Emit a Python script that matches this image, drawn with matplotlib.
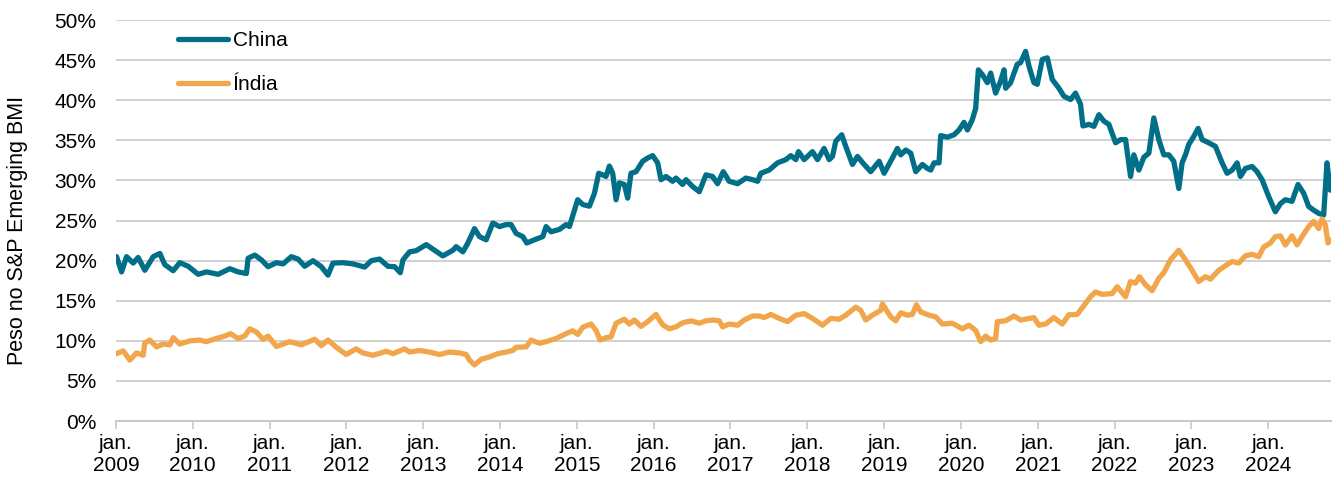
"""
Peso de China e Índia no S&P Emerging BMI (2009-2024).
Valores lidos do gráfico original (ano decimal, % do índice).
"""
import numpy as np
import matplotlib
matplotlib.use("Agg")
import matplotlib.pyplot as plt
from matplotlib.ticker import FuncFormatter

plt.rcParams["font.family"] = ["Liberation Sans", "DejaVu Sans"]

china = [
    (2009.009, 20.5), (2009.074, 18.6), (2009.139, 20.5), (2009.225, 19.7), (2009.290, 20.4),
    (2009.377, 18.8), (2009.486, 20.5), (2009.572, 20.9), (2009.637, 19.5), (2009.746, 18.75),
    (2009.832, 19.75), (2009.941, 19.3), (2010.071, 18.3), (2010.179, 18.6), (2010.331, 18.3),
    (2010.483, 19.0), (2010.591, 18.6), (2010.699, 18.4), (2010.721, 20.3), (2010.808, 20.7),
    (2010.894, 20.1), (2010.981, 19.25), (2011.089, 19.75), (2011.176, 19.6), (2011.284, 20.5),
    (2011.371, 20.2), (2011.458, 19.3), (2011.566, 20.0), (2011.674, 19.25), (2011.761, 18.2),
    (2011.826, 19.7), (2011.956, 19.75), (2012.086, 19.6), (2012.238, 19.2), (2012.325, 20.0),
    (2012.433, 20.2), (2012.541, 19.3), (2012.628, 19.25), (2012.702, 18.5), (2012.737, 20.1),
    (2012.823, 21.1), (2012.910, 21.25), (2013.040, 22.0), (2013.148, 21.3), (2013.256, 20.6),
    (2013.387, 21.3), (2013.430, 21.75), (2013.517, 21.1), (2013.582, 22.2), (2013.668, 24.0),
    (2013.733, 23.0), (2013.820, 22.6), (2013.907, 24.7), (2013.993, 24.25), (2014.080, 24.5),
    (2014.145, 24.5), (2014.210, 23.4), (2014.297, 23.0), (2014.349, 22.2), (2014.448, 22.6),
    (2014.557, 23.0), (2014.600, 24.25), (2014.665, 23.6), (2014.774, 23.9), (2014.860, 24.5),
    (2014.904, 24.25), (2014.969, 26.3), (2015.012, 27.6), (2015.077, 27.0), (2015.164, 26.8),
    (2015.229, 28.4), (2015.285, 30.9), (2015.337, 30.7), (2015.380, 30.5), (2015.424, 31.8),
    (2015.467, 30.9), (2015.511, 27.6), (2015.554, 29.7), (2015.619, 29.5), (2015.662, 27.8),
    (2015.705, 30.9), (2015.771, 31.1), (2015.857, 32.4), (2015.922, 32.8), (2015.987, 33.1),
    (2016.052, 32.2), (2016.096, 30.1), (2016.161, 30.5), (2016.247, 29.9), (2016.291, 30.3),
    (2016.377, 29.5), (2016.421, 30.1), (2016.507, 29.25), (2016.594, 28.6), (2016.681, 30.7),
    (2016.767, 30.5), (2016.832, 29.6), (2016.906, 31.1), (2016.984, 29.9), (2017.092, 29.6),
    (2017.201, 30.3), (2017.288, 30.1), (2017.353, 29.9), (2017.396, 30.9), (2017.504, 31.3),
    (2017.613, 32.2), (2017.721, 32.6), (2017.786, 33.1), (2017.851, 32.6), (2017.886, 33.6),
    (2017.959, 32.6), (2018.068, 33.6), (2018.133, 32.6), (2018.219, 34.0), (2018.285, 32.6),
    (2018.328, 33.0), (2018.371, 34.9), (2018.449, 35.7), (2018.501, 34.25), (2018.588, 32.0),
    (2018.653, 33.0), (2018.740, 32.0), (2018.826, 31.1), (2018.935, 32.4), (2019.000, 30.9),
    (2019.108, 32.8), (2019.173, 34.0), (2019.217, 33.2), (2019.282, 33.8), (2019.347, 33.4),
    (2019.412, 31.1), (2019.499, 32.0), (2019.564, 31.5), (2019.607, 31.3), (2019.650, 32.2),
    (2019.715, 32.2), (2019.737, 35.6), (2019.824, 35.4), (2019.910, 35.7), (2019.975, 36.3),
    (2020.040, 37.25), (2020.084, 36.3), (2020.149, 37.6), (2020.192, 39.0), (2020.227, 43.8),
    (2020.279, 43.2), (2020.344, 42.2), (2020.387, 43.4), (2020.452, 40.9), (2020.517, 42.4),
    (2020.561, 43.8), (2020.582, 41.5), (2020.647, 42.2), (2020.691, 43.4), (2020.734, 44.5),
    (2020.777, 44.7), (2020.842, 46.1), (2020.886, 44.25), (2020.951, 42.2), (2020.994, 42.0),
    (2021.059, 45.1), (2021.124, 45.3), (2021.189, 42.6), (2021.276, 41.5), (2021.341, 40.5),
    (2021.427, 40.1), (2021.492, 40.9), (2021.557, 39.5), (2021.588, 36.8), (2021.666, 37.0),
    (2021.731, 36.75), (2021.796, 38.2), (2021.861, 37.4), (2021.926, 37.0), (2022.013, 34.7),
    (2022.078, 35.1), (2022.143, 35.1), (2022.208, 30.5), (2022.251, 33.2), (2022.316, 31.3),
    (2022.381, 32.9), (2022.446, 33.4), (2022.511, 37.8), (2022.576, 35.1), (2022.641, 33.2),
    (2022.706, 33.2), (2022.771, 32.4), (2022.836, 29.0), (2022.879, 32.2), (2022.923, 33.2),
    (2022.966, 34.5), (2023.031, 35.5), (2023.088, 36.5), (2023.140, 35.1), (2023.226, 34.7),
    (2023.313, 34.25), (2023.400, 32.2), (2023.465, 30.9), (2023.530, 31.3), (2023.595, 32.2),
    (2023.638, 30.5), (2023.703, 31.5), (2023.790, 31.75), (2023.855, 31.1), (2023.920, 30.1),
    (2024.006, 28.0), (2024.093, 26.1), (2024.158, 27.1), (2024.223, 27.6), (2024.310, 27.4),
    (2024.388, 29.5), (2024.462, 28.4), (2024.527, 26.75), (2024.592, 26.3), (2024.657, 25.9),
    (2024.722, 25.7), (2024.765, 32.2), (2024.808, 28.8),
]

india = [
    (2009.009, 8.4), (2009.095, 8.75), (2009.182, 7.6), (2009.269, 8.5), (2009.355, 8.2),
    (2009.377, 9.75), (2009.442, 10.1), (2009.529, 9.25), (2009.615, 9.6), (2009.702, 9.5),
    (2009.746, 10.4), (2009.832, 9.6), (2009.962, 10.0), (2010.092, 10.1), (2010.179, 9.9),
    (2010.309, 10.3), (2010.418, 10.6), (2010.491, 10.9), (2010.591, 10.3), (2010.678, 10.6),
    (2010.743, 11.5), (2010.829, 11.1), (2010.916, 10.2), (2010.981, 10.6), (2011.089, 9.3),
    (2011.263, 9.9), (2011.414, 9.5), (2011.588, 10.2), (2011.674, 9.4), (2011.761, 10.1),
    (2011.869, 9.2), (2011.998, 8.3), (2012.128, 9.0), (2012.216, 8.5), (2012.346, 8.2),
    (2012.520, 8.7), (2012.606, 8.4), (2012.758, 9.0), (2012.823, 8.6), (2012.953, 8.8),
    (2013.083, 8.6), (2013.213, 8.3), (2013.343, 8.6), (2013.473, 8.5), (2013.560, 8.3),
    (2013.603, 7.6), (2013.668, 7.0), (2013.755, 7.7), (2013.863, 8.0), (2013.972, 8.4),
    (2014.080, 8.6), (2014.167, 8.8), (2014.210, 9.2), (2014.340, 9.25), (2014.405, 10.1),
    (2014.513, 9.7), (2014.600, 9.9), (2014.730, 10.3), (2014.860, 10.9), (2014.947, 11.25),
    (2015.012, 10.8), (2015.077, 11.7), (2015.185, 12.1), (2015.250, 11.3), (2015.303, 10.1),
    (2015.380, 10.4), (2015.445, 10.5), (2015.511, 12.2), (2015.619, 12.7), (2015.684, 12.1),
    (2015.749, 12.6), (2015.836, 11.8), (2015.922, 12.4), (2016.031, 13.3), (2016.117, 12.0),
    (2016.204, 11.5), (2016.291, 11.75), (2016.377, 12.25), (2016.486, 12.5), (2016.594, 12.2),
    (2016.681, 12.5), (2016.767, 12.6), (2016.854, 12.5), (2016.897, 11.75), (2016.984, 12.1),
    (2017.092, 11.95), (2017.179, 12.6), (2017.288, 13.1), (2017.374, 13.1), (2017.439, 12.9),
    (2017.526, 13.3), (2017.634, 12.8), (2017.743, 12.4), (2017.851, 13.2), (2017.959, 13.4),
    (2018.068, 12.8), (2018.198, 11.95), (2018.306, 12.8), (2018.415, 12.7), (2018.501, 13.2),
    (2018.631, 14.2), (2018.696, 13.8), (2018.761, 12.6), (2018.848, 13.2), (2018.956, 13.8),
    (2018.978, 14.6), (2019.086, 13.0), (2019.151, 12.5), (2019.217, 13.5), (2019.303, 13.2),
    (2019.368, 13.3), (2019.420, 14.5), (2019.477, 13.6), (2019.585, 13.2), (2019.672, 13.0),
    (2019.758, 12.1), (2019.888, 12.2), (2020.018, 11.5), (2020.105, 11.95), (2020.192, 11.3),
    (2020.257, 9.9), (2020.322, 10.6), (2020.387, 10.1), (2020.452, 10.3), (2020.474, 12.4),
    (2020.582, 12.5), (2020.690, 13.1), (2020.777, 12.6), (2020.950, 12.9), (2021.015, 11.95),
    (2021.102, 12.1), (2021.210, 12.9), (2021.319, 12.1), (2021.405, 13.25), (2021.514, 13.3),
    (2021.600, 14.4), (2021.687, 15.5), (2021.752, 16.1), (2021.839, 15.8), (2021.969, 15.9),
    (2022.034, 16.75), (2022.142, 15.5), (2022.207, 17.4), (2022.272, 17.2), (2022.324, 18.0),
    (2022.402, 17.0), (2022.489, 16.25), (2022.576, 17.8), (2022.641, 18.5), (2022.727, 20.1),
    (2022.836, 21.3), (2022.923, 20.1), (2023.009, 18.8), (2023.096, 17.4), (2023.183, 18.0),
    (2023.248, 17.7), (2023.356, 18.8), (2023.464, 19.5), (2023.530, 19.9), (2023.616, 19.7),
    (2023.703, 20.6), (2023.789, 20.8), (2023.876, 20.5), (2023.941, 21.7), (2024.028, 22.2),
    (2024.093, 23.0), (2024.158, 23.1), (2024.223, 21.96), (2024.310, 23.1), (2024.375, 21.96),
    (2024.440, 23.0), (2024.527, 24.25), (2024.592, 24.9), (2024.657, 24.0), (2024.700, 25.2),
    (2024.743, 24.5), (2024.778, 22.2), (2024.813, 22.6),
]

china = np.array(china)
india = np.array(india)

fig = plt.figure(figsize=(13.32, 4.79), dpi=100)
ax = fig.add_axes([0.087, 0.121, 0.912, 0.837])

ax.plot(china[:, 0], china[:, 1], color="#016F88", linewidth=3.8, label="China",
        solid_capstyle="round", solid_joinstyle="round")
ax.plot(india[:, 0], india[:, 1], color="#F2A64B", linewidth=3.8, label="Índia",
        solid_capstyle="round", solid_joinstyle="round")

ax.set_ylim(0, 50)
ax.set_xlim(2009, india[-1, 0])
ax.set_yticks(np.arange(0, 51, 5))
ax.yaxis.set_major_formatter(FuncFormatter(lambda v, p: f"{v:.0f}%"))
ax.set_xticks(np.arange(2009, 2025))
ax.set_xticklabels([f"jan.\n{a}" for a in range(2009, 2025)], linespacing=1.25)

ax.grid(axis="y", color="#D0D0D0", linewidth=1.4)
ax.set_axisbelow(True)
for lado in ["top", "right", "left"]:
    ax.spines[lado].set_visible(False)
ax.spines["bottom"].set_color("#C8C8C8")
ax.spines["bottom"].set_linewidth(1.4)
ax.tick_params(axis="x", colors="#C8C8C8", length=6, width=1.2, labelcolor="black",
               labelsize=15, pad=3)
ax.tick_params(axis="y", length=0, labelsize=15, pad=14)

ax.set_ylabel("Peso no S&P Emerging BMI", fontsize=15.5)
ax.yaxis.set_label_coords(-0.072, 0.475)

ax.legend(loc="upper left", bbox_to_anchor=(0.036, 1.02), frameon=False, fontsize=15,
          handlelength=2.4, handletextpad=0.2, labelspacing=1.2)

fig.savefig("out.png", dpi=100)
